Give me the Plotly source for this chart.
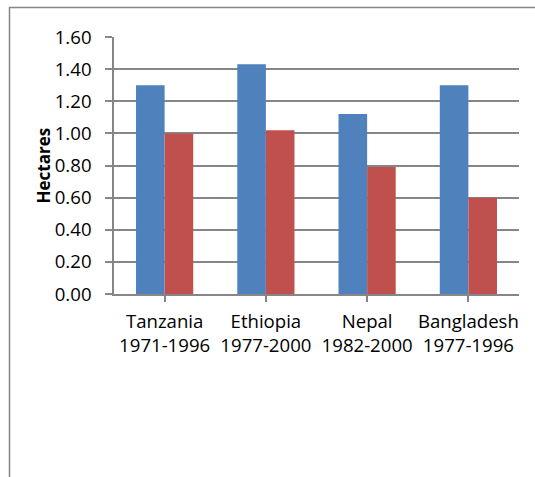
import plotly.graph_objects as go

# Land per household (hectares), start vs end of period
countries = ["Tanzania", "Ethiopia", "Nepal", "Bangladesh"]
periods = ["1971-1996", "1977-2000", "1982-2000", "1977-1996"]
start_values = [1.30, 1.43, 1.12, 1.30]
end_values = [1.00, 1.02, 0.79, 0.60]
y_ticks = [0.0, 0.2, 0.4, 0.6, 0.8, 1.0, 1.2, 1.4, 1.6]

W, H = 535, 477
ML, MR, MT, MB = 114, 16, 37, 183
PW, PH = W - ML - MR, H - MT - MB

FONT = "'Open Sans', Lato, sans-serif"
FS = 18.6
GRAY = "#868686"

x_idx = list(range(len(countries)))
labels = [f"{c}<br>{p}" for c, p in zip(countries, periods)]

fig = go.Figure()
fig.add_trace(go.Bar(x=x_idx, y=start_values, marker=dict(color="#4F81BD", line=dict(width=0))))
fig.add_trace(go.Bar(x=x_idx, y=end_values, marker=dict(color="#C0504D", line=dict(width=0))))


def px_to_paper_x(px):
    return (px - ML) / PW


def px_to_paper_y(py):
    return (H - MB - py) / PH


# Chart-area frame
fig.add_shape(type="rect", xref="paper", yref="paper",
              x0=px_to_paper_x(9.5), x1=px_to_paper_x(W + 10),
              y0=px_to_paper_y(H + 10), y1=px_to_paper_y(7.5),
              line=dict(color=GRAY, width=1.5), fillcolor="rgba(0,0,0,0)", layer="below")

fig.add_annotation(text="<b>Hectares</b>", xref="paper", yref="paper",
                   x=px_to_paper_x(43), y=0.5, textangle=-90, showarrow=False,
                   font=dict(family=FONT, size=17, color="black"),
                   xanchor="center", yanchor="middle")

fig.update_layout(
    width=W, height=H,
    margin=dict(l=ML, r=MR, t=MT, b=MB),
    paper_bgcolor="white", plot_bgcolor="white",
    barmode="group", bargap=0.435, bargroupgap=0,
    showlegend=False,
    font=dict(family=FONT, size=FS, color="black"),
    xaxis=dict(
        range=[-0.5, 3.5], tickmode="array", tickvals=x_idx, ticktext=labels,
        tickson="boundaries", ticks="outside", ticklen=6, tickcolor=GRAY, tickwidth=1.5,
        showline=True, linecolor=GRAY, linewidth=1.5, showgrid=False, zeroline=False,
        ticklabelstandoff=4, fixedrange=True,
    ),
    yaxis=dict(
        range=[0, 1.6], tickmode="array", tickvals=y_ticks,
        ticktext=[f"{v:.2f}" for v in y_ticks],
        ticks="outside", ticklen=7, tickcolor=GRAY, tickwidth=1.5,
        showline=True, linecolor=GRAY, linewidth=1.5,
        showgrid=True, gridcolor=GRAY, gridwidth=1.5, zeroline=False,
        ticklabelstandoff=10, fixedrange=True,
    ),
)

fig.write_html("out.html", config={"displayModeBar": False})
